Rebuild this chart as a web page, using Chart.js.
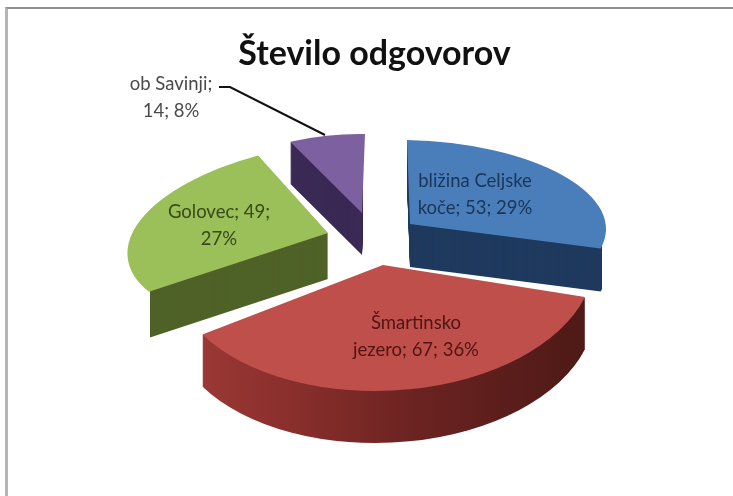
<!DOCTYPE html>
<html>
<head>
<meta charset="utf-8">
<title>Število odgovorov</title>
<script src="https://cdn.jsdelivr.net/npm/chart.js@4"></script>
<style>
  html, body { margin: 0; padding: 0; background: #fff; overflow: hidden; }
  #frame { position: absolute; left: 5px; top: 7px; width: 740px; height: 490px; border-left: 3px solid #b5b5b5; border-top: 2px solid #8f8f8f; }
  canvas { position: absolute; left: 0; top: 0; filter: blur(0.6px); }
</style>
</head>
<body>
<div id="frame"></div>
<canvas id="pie" width="733" height="496"></canvas>
<script>
const chartTitle = 'Število odgovorov';
const categories = ['bližina Celjske koče', 'Šmartinsko jezero', 'Golovec', 'ob Savinji'];
const values = [53, 67, 49, 14];
const percentLabels = ['29%', '36%', '27%', '8%'];
const firstLineWords = [2, 1, 2, 2];

const topColors = ['#4a7ebb', '#bf4f4b', '#9bbf59', '#7d60a0'];
const labelColors = ['#1b3557', '#4f1513', '#38491a', '#4a4a4a'];

// each slice of the 3D pie gets its own projection: apex, 2x2 matrix, depth, side clip
const poses = [
  { x: 410, y: 224, m: [196, 3, 3.8, 84], depth: 43, side: '#1f3a5e', clip: [0, 602] },
  { x: 383, y: 265, m: [211, -10, 1, 126], depth: 52, side: [[0, '#a03b38'], [0.3, '#8a2f2c'], [0.6, '#6b2321'], [1, '#4d1916']], clip: [0, 733] },
  { x: 328, y: 233, m: [199, -25, -9, 92], depth: 46, side: '#4f6228', clip: [150, 733] },
  { x: 362, y: 213, m: [161, -3, 2.6, 79], depth: 42, side: '#3b2a56', clip: [289, 363] }
];
const drawOrder = [3, 0, 2, 1];

const labelSpots = [
  { x: 475, y: 181 }, { x: 416, y: 323 }, { x: 219, y: 212 }, { x: 171, y: 84 }
];
const leaderLine = [[219, 87], [230, 87], [325, 135]];

const pie3d = {
  id: 'pie3d',
  beforeDatasetDraw(chart, args) {
    const ctx = chart.ctx;
    const arcs = args.meta.data;
    drawOrder.forEach(i => {
      const arc = arcs[i];
      const pose = poses[i];
      const R = arc.outerRadius;
      const project = dy => {
        ctx.translate(pose.x, pose.y + dy);
        ctx.transform(pose.m[0] / R, pose.m[2] / R, pose.m[1] / R, pose.m[3] / R, 0, 0);
        ctx.translate(-arc.x, -arc.y);
      };
      const opts = arc.options;
      let sideFill = pose.side;
      if (Array.isArray(sideFill)) {
        sideFill = ctx.createLinearGradient(arc.x - R, 0, arc.x + R, 0);
        pose.side.forEach(s => sideFill.addColorStop(s[0], s[1]));
      }
      arc.options = Object.create(opts, { backgroundColor: { value: sideFill } });
      ctx.save();
      ctx.beginPath();
      ctx.rect(pose.clip[0], 0, pose.clip[1] - pose.clip[0], chart.height);
      ctx.clip();
      for (let dy = pose.depth; dy > 0; dy--) {
        ctx.save();
        project(dy);
        arc.draw(ctx);
        ctx.restore();
      }
      ctx.restore();
      arc.options = opts;
      ctx.save();
      project(0);
      arc.draw(ctx);
      ctx.restore();
    });
    return false;
  },
  afterDatasetsDraw(chart) {
    const ctx = chart.ctx;
    ctx.save();
    ctx.font = '18.5px Lato';
    ctx.textAlign = 'center';
    ctx.textBaseline = 'middle';
    categories.forEach((cat, i) => {
      const words = `${cat}; ${values[i]}; ${percentLabels[i]}`.split(' ');
      const lines = [words.slice(0, firstLineWords[i]).join(' '), words.slice(firstLineWords[i]).join(' ')];
      ctx.fillStyle = labelColors[i];
      lines.forEach((line, k) => ctx.fillText(line, labelSpots[i].x, labelSpots[i].y + k * 27.5));
    });
    ctx.beginPath();
    leaderLine.forEach((p, k) => k ? ctx.lineTo(p[0], p[1]) : ctx.moveTo(p[0], p[1]));
    ctx.strokeStyle = '#111';
    ctx.lineWidth = 2;
    ctx.stroke();
    ctx.restore();
  }
};

new Chart(document.getElementById('pie'), {
  type: 'pie',
  data: {
    labels: categories,
    datasets: [{ data: values, backgroundColor: topColors, borderWidth: 0 }]
  },
  options: {
    responsive: false,
    animation: false,
    layout: { padding: { left: 16 } },
    plugins: {
      legend: { display: false },
      tooltip: { enabled: false },
      title: {
        display: true,
        text: chartTitle,
        color: '#111',
        font: { family: 'Lato', size: 34, weight: 'bold' },
        padding: { top: 34, bottom: 10 }
      }
    }
  },
  plugins: [pie3d]
});
</script>
</body>
</html>
